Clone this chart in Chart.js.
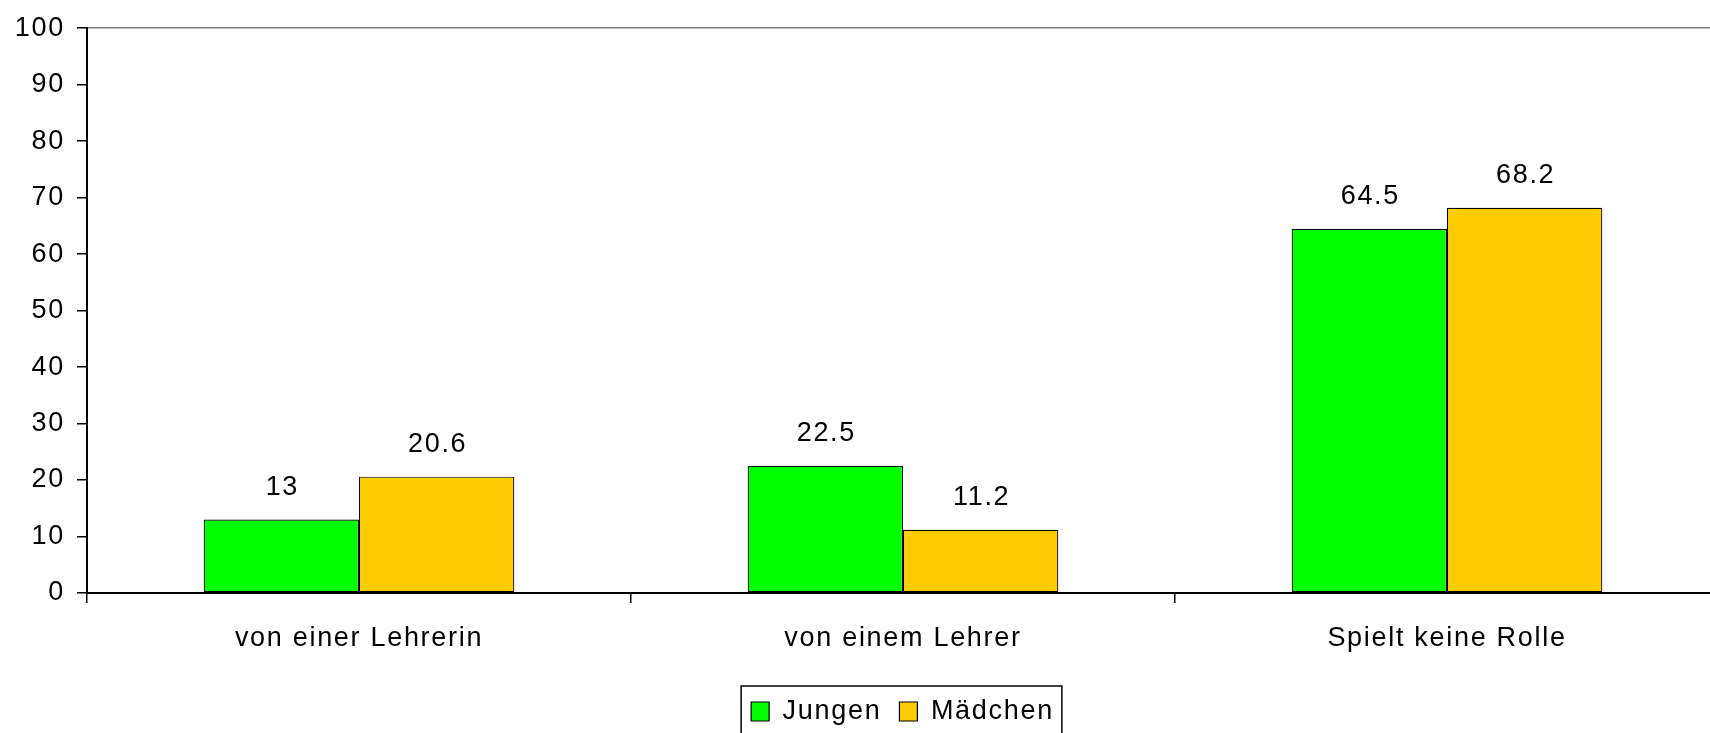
<!DOCTYPE html>
<html>
<head>
<meta charset="utf-8">
<script src="https://cdn.jsdelivr.net/npm/chart.js@4.4.1/dist/chart.umd.min.js"></script>
<style>
  html, body { margin: 0; padding: 0; background: #ffffff; overflow: hidden; width: 1710px; height: 733px; }
  #wrap { position: absolute; left: 0; top: 0; width: 1720px; height: 733px; }
</style>
</head>
<body>
<div id="wrap"><canvas id="c" width="1720" height="733"></canvas></div>
<script>
const categories = ['von einer Lehrerin', 'von einem Lehrer', 'Spielt keine Rolle'];
const seriesNames = ['Jungen', 'Mädchen'];
const jungenValues = [13, 22.5, 64.5];
const maedchenValues = [20.6, 11.2, 68.2];
const yMin = 0;
const yMax = 100;
const yStep = 10;

const FONT_FAMILY = '"Liberation Sans", Arial, Helvetica, sans-serif';
const FONT_SIZE = 27;
const LETTER_SPACING = '1.7px';

const spacingPlugin = {
  id: 'spacing',
  beforeUpdate(chart) { chart.ctx.letterSpacing = LETTER_SPACING; },
  beforeLayout(chart) { chart.ctx.letterSpacing = LETTER_SPACING; },
  afterLayout(chart) {
    // centre the legend under the plot area
    if (chart.legend) { chart.legend.left = 86; }
  },
  beforeDraw(chart) { chart.ctx.letterSpacing = LETTER_SPACING; }
};

const valueLabelPlugin = {
  id: 'valueLabels',
  afterDatasetsDraw(chart) {
    const ctx = chart.ctx;
    ctx.save();
    ctx.letterSpacing = LETTER_SPACING;
    ctx.font = FONT_SIZE + 'px ' + FONT_FAMILY;
    ctx.fillStyle = '#000';
    ctx.textAlign = 'center';
    ctx.textBaseline = 'alphabetic';
    chart.data.datasets.forEach((ds, di) => {
      const meta = chart.getDatasetMeta(di);
      meta.data.forEach((bar, i) => {
        ctx.fillText(String(ds.data[i]), bar.x + 1, bar.y - 25);
      });
    });
    ctx.restore();
  }
};

const legendBoxPlugin = {
  id: 'legendBox',
  afterDraw(chart) {
    const lg = chart.legend;
    if (!lg || !lg.legendHitBoxes || !lg.legendHitBoxes.length) return;
    const hb = lg.legendHitBoxes;
    const left = hb[0].left - 10;
    const right = hb[hb.length - 1].left + hb[hb.length - 1].width + 8;
    const top = hb[0].top - 12;
    const ctx = chart.ctx;
    ctx.save();
    ctx.strokeStyle = '#000';
    ctx.lineWidth = 1.5;
    ctx.strokeRect(left, top, right - left, 60);
    ctx.restore();
  }
};

new Chart(document.getElementById('c'), {
  type: 'bar',
  data: {
    labels: categories,
    datasets: [
      {
        label: seriesNames[0],
        data: jungenValues,
        backgroundColor: '#00FF00',
        borderColor: '#000000',
        borderWidth: 1.2,
        borderSkipped: false,
        categoryPercentage: 0.571,
        barPercentage: 1.0
      },
      {
        label: seriesNames[1],
        data: maedchenValues,
        backgroundColor: '#FFCC00',
        borderColor: '#000000',
        borderWidth: 1.2,
        borderSkipped: false,
        categoryPercentage: 0.571,
        barPercentage: 1.0
      }
    ]
  },
  options: {
    responsive: false,
    devicePixelRatio: 1,
    animation: false,
    layout: { padding: { left: 0, right: 1, top: 25, bottom: -2 } },
    plugins: {
      legend: {
        display: true,
        position: 'bottom',
        align: 'center',
        labels: {
          color: '#000',
          font: { family: FONT_FAMILY, size: FONT_SIZE },
          boxWidth: 18,
          boxHeight: 19,
          padding: 18
        }
      },
      tooltip: { enabled: false },
      title: { display: false }
    },
    scales: {
      x: {
        afterFit(s) { s.height = 87; },
        grid: {
          display: true,
          offset: true,
          drawOnChartArea: false,
          drawTicks: true,
          tickLength: 10,
          color: '#000',
          tickColor: '#000',
          lineWidth: 1.5
        },
        border: { display: true, color: '#000', width: 2 },
        ticks: {
          color: '#000',
          font: { family: FONT_FAMILY, size: FONT_SIZE },
          padding: 19,
          maxRotation: 0,
          autoSkip: false
        }
      },
      y: {
        min: yMin,
        max: yMax,
        afterFit(s) { s.width = 87; },
        grid: {
          display: true,
          drawOnChartArea: true,
          drawTicks: true,
          tickLength: 10,
          color: (c) => (c.tick && c.tick.value === yMax) ? '#808080' : 'rgba(0,0,0,0)',
          tickColor: '#000',
          lineWidth: 1.5
        },
        border: { display: true, color: '#000', width: 2 },
        ticks: {
          stepSize: yStep,
          color: '#000',
          font: { family: FONT_FAMILY, size: FONT_SIZE },
          padding: 12
        }
      }
    }
  },
  plugins: [spacingPlugin, valueLabelPlugin, legendBoxPlugin]
});
</script>
</body>
</html>
